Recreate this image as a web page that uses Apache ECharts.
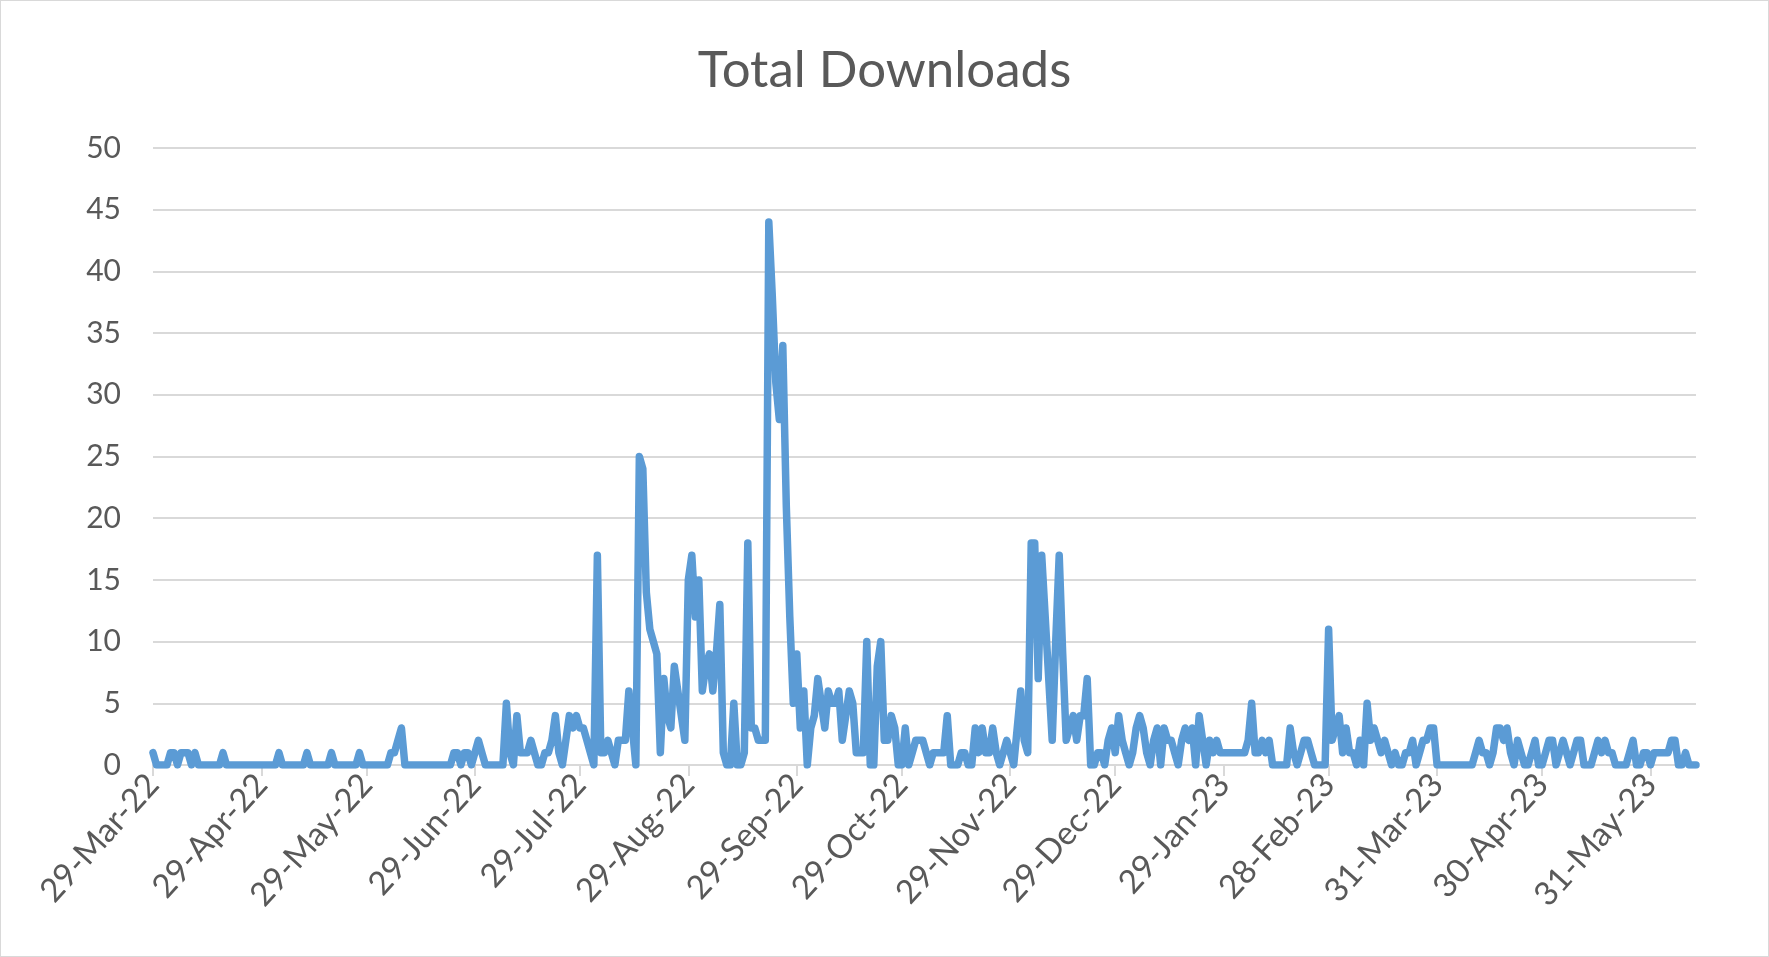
<!DOCTYPE html>
<html>
<head>
<meta charset="utf-8">
<title>Total Downloads</title>
<script src="https://cdn.jsdelivr.net/npm/echarts@6/dist/echarts.min.js"></script>
<style>
  html, body { margin: 0; padding: 0; background: #ffffff; }
  #chart { width: 1769px; height: 957px; box-sizing: border-box; border: 1px solid #d9d9d9; }
</style>
</head>
<body>
<div id="chart"></div>
<script>
// Daily download counts, one value per day starting 29-Mar-22 (rows of ten days).
const downloads = [
  1,0,0,0,0,1,1,0,1,1,
  1,0,1,0,0,0,0,0,0,0,
  1,0,0,0,0,0,0,0,0,0,
  0,0,0,0,0,0,1,0,0,0,
  0,0,0,0,1,0,0,0,0,0,
  0,1,0,0,0,0,0,0,0,1,
  0,0,0,0,0,0,0,0,1,1,
  2,3,0,0,0,0,0,0,0,0,
  0,0,0,0,0,0,1,1,0,1,
  1,0,1,2,1,0,0,0,0,0,
  0,5,1,0,4,1,1,1,2,1,
  0,0,1,1,2,4,1,0,2,4,
  3,4,3,3,2,1,0,17,1,1,
  2,1,0,2,2,2,6,3,0,25,
  24,14,11,10,9,1,7,4,3,8,
  6,4,2,15,17,12,15,6,8,9,
  6,9,13,1,0,0,5,0,0,1,
  18,3,3,2,2,2,44,38,31,28,
  34,21,12,5,9,3,6,0,3,4,
  7,5,3,6,5,5,6,2,4,6,
  5,1,1,1,10,0,0,8,10,2,
  2,4,3,0,0,3,0,1,2,2,
  2,1,0,1,1,1,1,4,0,0,
  0,1,1,0,0,3,1,3,1,1,
  3,1,0,1,2,1,0,3,6,2,
  1,18,18,7,17,12,7,2,10,17,
  9,2,3,4,2,4,4,7,0,0,
  1,1,0,2,3,1,4,2,1,0,
  1,3,4,3,1,0,2,3,0,3,
  2,2,1,0,2,3,2,3,0,4,
  2,0,2,1,2,1,1,1,1,1,
  1,1,1,2,5,1,1,2,1,2,
  0,0,0,0,0,3,1,0,1,2,
  2,1,0,0,0,0,11,2,3,4,
  1,3,1,1,0,2,0,5,2,3,
  2,1,2,1,0,1,0,0,1,1,
  2,0,1,2,2,3,3,0,0,0,
  0,0,0,0,0,0,0,0,1,2,
  1,1,0,1,3,3,2,3,1,0,
  2,1,0,0,1,2,0,0,1,2,
  2,0,1,2,1,0,1,2,2,0,
  0,0,1,2,1,2,1,1,0,0,
  0,0,1,2,0,0,1,1,0,1,
  1,1,1,1,2,2,0,0,1,0,
  0,0
];

// Dates that carry a tick mark and label on the horizontal axis.
const tickLabels = [
  '29-Mar-22', '29-Apr-22', '29-May-22', '29-Jun-22', '29-Jul-22',
  '29-Aug-22', '29-Sep-22', '29-Oct-22', '29-Nov-22', '29-Dec-22',
  '29-Jan-23', '28-Feb-23', '31-Mar-23', '30-Apr-23', '31-May-23'
];

const yTicks = { min: 0, max: 50, step: 5 };

const MONTHS = ['Jan','Feb','Mar','Apr','May','Jun','Jul','Aug','Sep','Oct','Nov','Dec'];
const startDate = Date.UTC(2022, 2, 29);

// One category per day, formatted d-mmm-yy.
const categories = downloads.map((_, i) => {
  const d = new Date(startDate + i * 86400000);
  return d.getUTCDate() + '-' + MONTHS[d.getUTCMonth()] + '-' + String(d.getUTCFullYear()).slice(2);
});

const tickSet = new Set(tickLabels);
const showTick = (index, value) => tickSet.has(value);

const FONT = 'Lato, "Liberation Sans", sans-serif';
const TEXT = '#595959';
const GRID = '#d9d9d9';

const chart = echarts.init(document.getElementById('chart'), null, { renderer: 'canvas' });
chart.setOption({
  animation: false,
  backgroundColor: '#ffffff',
  title: {
    text: 'Total Downloads',
    left: 'center',
    top: 39,
    textStyle: { fontFamily: FONT, fontSize: 51, fontWeight: 'normal', color: TEXT }
  },
  grid: { left: 152, right: 72, top: 147, bottom: 191, containLabel: false },
  xAxis: {
    type: 'category',
    data: categories,
    boundaryGap: false,
    axisLine: { show: true, lineStyle: { color: GRID, width: 2 } },
    axisTick: { show: true, interval: showTick, length: 11, lineStyle: { color: GRID, width: 2 } },
    axisLabel: {
      interval: showTick,
      rotate: 48,
      margin: 14,
      fontFamily: FONT,
      fontSize: 33,
      color: TEXT
    },
    splitLine: { show: false }
  },
  yAxis: {
    type: 'value',
    min: yTicks.min,
    max: yTicks.max,
    interval: yTicks.step,
    axisLine: { show: false },
    axisTick: { show: false },
    axisLabel: { margin: 32, fontFamily: FONT, fontSize: 30, color: TEXT },
    splitLine: { show: true, lineStyle: { color: GRID, width: 2 } }
  },
  series: [{
    name: 'Total Downloads',
    type: 'line',
    data: downloads,
    showSymbol: false,
    symbol: 'none',
    lineStyle: { color: '#5b9bd5', width: 7.5, join: 'round', cap: 'round' },
    z: 5
  }]
});
</script>
</body>
</html>
